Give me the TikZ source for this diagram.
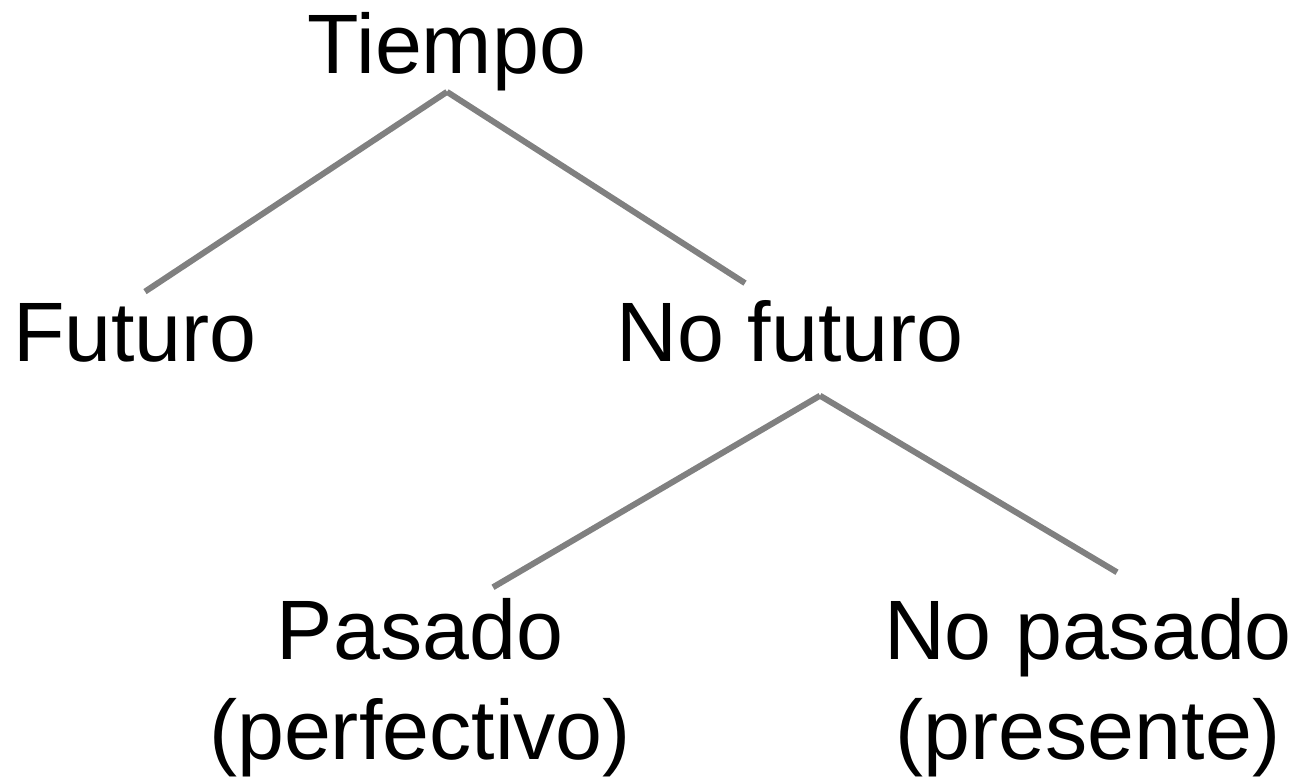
\documentclass[tikz,border=0pt]{standalone}
\usepackage{fontspec}
\setmainfont{Liberation Sans}
\usetikzlibrary{calc, %for relative coord calculations
                positioning}

\begin{document}
\begin{tikzpicture}[Label/.style={inner sep=0, font=\fontsize{48}{57}\selectfont},
                    Branch/.style={line width=0.12cm, gray}
                    ]

    \useasboundingbox (0,0) rectangle (26.06,15.52);

    % ROOT %
    \node[Label, anchor=base] at (8.94,14.04) (Tiempo){Tiempo};

    % FIRST LEVEL %
    \node[Label, anchor=base] at (2.70,8.28) (Futuro){Futuro};
    \node[Label, anchor=base] at (15.80,8.28) (NoFuturo){No futuro};

    % SECOND LEVEL %
    \node[Label, align=center] at (8.40,1.76) (Pasado){Pasado\\(perfectivo)};
    \node[Label, align=center] at (21.76,1.76) (NoPasado){No pasado\\(presente)};

    % BRANCHES %
    \draw[Branch] (Tiempo.south) -- ($(Futuro.north) + (0.2,0.24)$);
    \draw[Branch] (Tiempo.south) -- ($(NoFuturo.north) + (-0.9,0.35)$);
    \draw[Branch] ($(NoFuturo.south) + (0.6,-0.65)$) -- ($(Pasado.north) + (1.46,0.22)$);
    \draw[Branch] ($(NoFuturo.south) + (0.6,-0.65)$) -- ($(NoPasado.north) + (0.58,0.52)$);
\end{tikzpicture}
\end{document}
